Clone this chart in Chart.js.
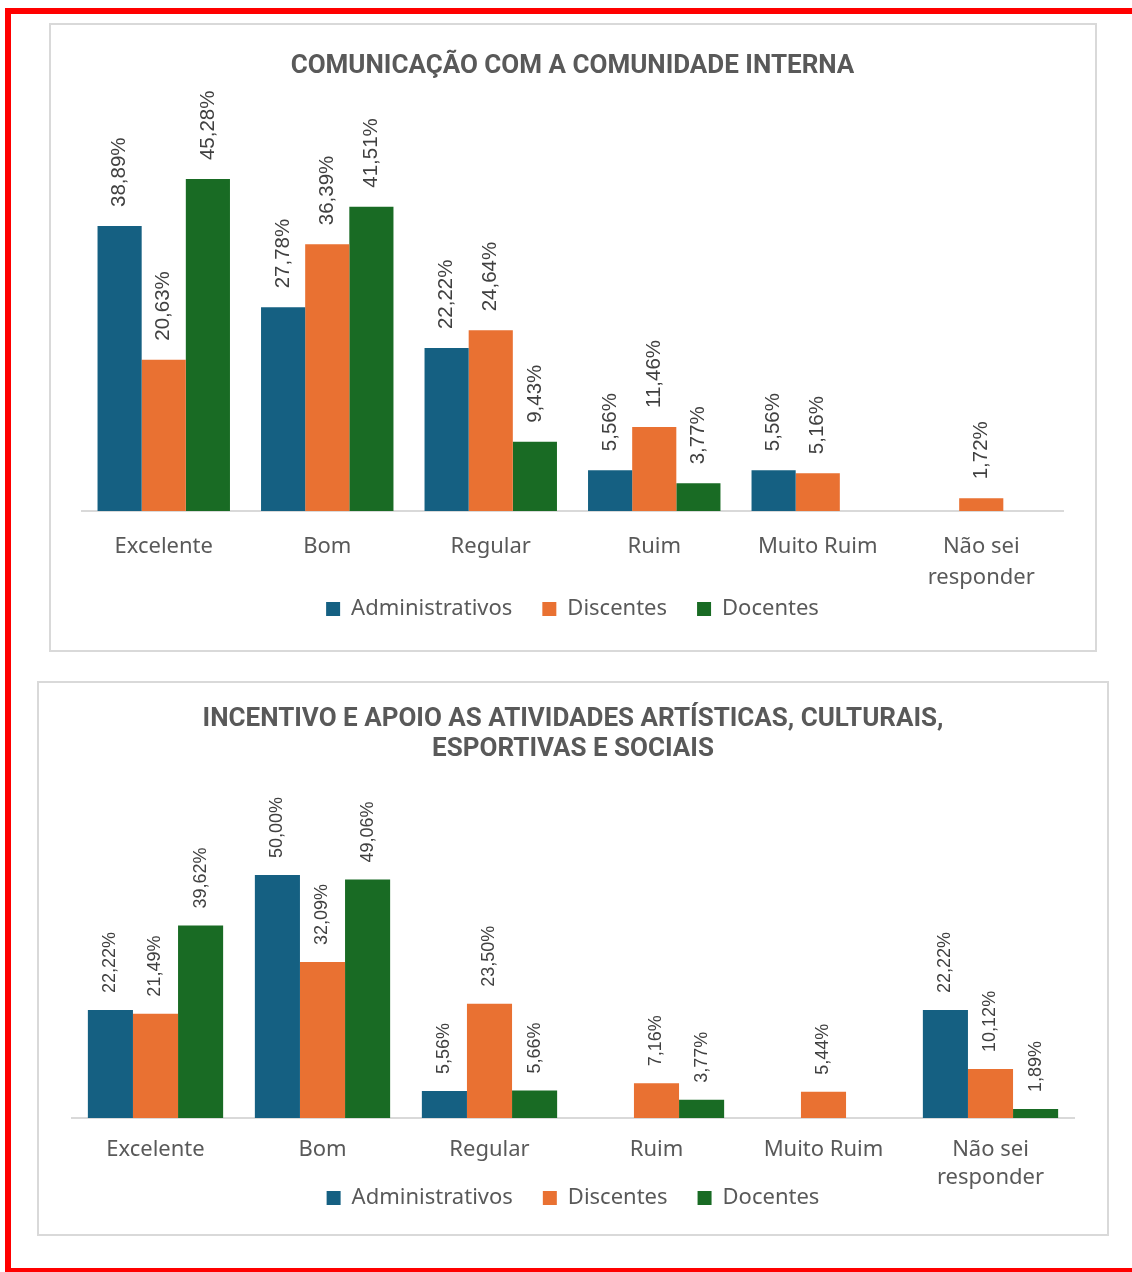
<!DOCTYPE html>
<html>
<head>
<meta charset="utf-8">
<script src="https://cdn.jsdelivr.net/npm/chart.js@4.4.1/dist/chart.umd.min.js"></script>
<style>
  body { margin: 0; background: #fff; }
  #page { position: relative; width: 1132px; height: 1272px; overflow: hidden; background: #fff; }
  #frame { position: absolute; left: 5px; top: 8px; width: 1140px; height: 1266px; border: 6px solid #ff0000; box-sizing: border-box; }
  .panel { position: absolute; border: 2px solid #d9d9d9; box-sizing: border-box; background: #fff; }
  #panel1 { left: 49px; top: 23px; width: 1048px; height: 629px; }
  #panel2 { left: 37px; top: 681px; width: 1072px; height: 555px; }
  .box { position: absolute; }
  #box1 { left: 51px; top: 25px; width: 1044px; height: 650px; }
  #box2 { left: 39px; top: 683px; width: 1068px; height: 589px; }
</style>
</head>
<body>
<div id="page">
  <div id="frame"></div>
  <div class="panel" id="panel1"></div>
  <div class="panel" id="panel2"></div>
  <div class="box" id="box1"><canvas id="chart_1"></canvas></div>
  <div class="box" id="box2"><canvas id="chart_2"></canvas></div>
</div>
<script>
// categories and series (percent)
const categories = ['Excelente', 'Bom', 'Regular', 'Ruim', 'Muito Ruim', ['Não sei', 'responder']];
const seriesNames = ['Administrativos', 'Discentes', 'Docentes'];
const seriesColors = ['#156082', '#E97132', '#196B24'];

// chart 1 - comunicação
const admin_1 = [38.89, 27.78, 22.22, 5.56, 5.56, null];
const disc_1 = [20.63, 36.39, 24.64, 11.46, 5.16, 1.72];
const doc_1 = [45.28, 41.51, 9.43, 3.77, null, null];

// chart 2 - incentivo e apoio
const admin_2 = [22.22, 50.00, 5.56, null, null, 22.22];
const disc_2 = [21.49, 32.09, 23.50, 7.16, 5.44, 10.12];
const doc_2 = [39.62, 49.06, 5.66, 3.77, null, 1.89];

const fmt = v => v.toFixed(2).replace('.', ',') + '%';

// draws the rotated value labels above each bar
const barLabels = {
  id: 'barLabels',
  afterDatasetsDraw(chart, args, opts) {
    const ctx = chart.ctx;
    ctx.save();
    ctx.fillStyle = '#404040';
    ctx.font = opts.size + 'px "Liberation Sans", Arial, sans-serif';
    ctx.textAlign = 'left';
    ctx.textBaseline = 'middle';
    chart.data.datasets.forEach((ds, i) => {
      const meta = chart.getDatasetMeta(i);
      meta.data.forEach((bar, j) => {
        const v = ds.data[j];
        if (v === null || v === undefined) return;
        ctx.save();
        ctx.translate(bar.x, bar.y - opts.offset);
        ctx.rotate(-Math.PI / 2);
        ctx.fillText(fmt(v), 0, 0);
        ctx.restore();
      });
    });
    ctx.restore();
  }
};

// pulls the legend up closer to the axis labels (excel-like spacing)
const legendShift = {
  id: 'legendShift',
  afterLayout(chart, args, opts) {
    const lg = chart.legend;
    if (!lg) return;
    lg.top -= opts.dy;
    lg.bottom -= opts.dy;
  }
};

const make_chart = (canvasId, series, cfg) => {
  return new Chart(document.getElementById(canvasId), {
    type: 'bar',
    data: {
      labels: categories,
      datasets: series.map((s, i) => ({
        label: seriesNames[i],
        data: s,
        backgroundColor: seriesColors[i],
        borderWidth: 0,
        categoryPercentage: 0.81,
        barPercentage: 1.0
      }))
    },
    plugins: [barLabels, legendShift],
    options: {
      responsive: true,
      maintainAspectRatio: false,
      animation: false,
      layout: { padding: { left: cfg.padLeft, right: cfg.padRight, top: 0, bottom: 0 } },
      scales: {
        y: { display: false, min: 0, max: 50 },
        x: {
          grid: { display: false, drawTicks: false },
          border: { display: true, color: '#d9d9d9', width: 2 },
          ticks: {
            color: '#595959',
            padding: cfg.tickPad,
            maxRotation: 0,
            autoSkip: false,
            font: { family: '"Noto Sans", "Open Sans", sans-serif', size: 22, lineHeight: cfg.tickLine }
          }
        }
      },
      plugins: {
        title: {
          display: true,
          text: cfg.title,
          color: '#595959',
          font: { family: 'Roboto, sans-serif', weight: 'bold', size: 26, lineHeight: cfg.titleLine },
          padding: { top: cfg.titleTop, bottom: cfg.titleBottom }
        },
        legend: {
          position: 'bottom',
          labels: {
            color: '#595959',
            boxWidth: 14,
            boxHeight: 14,
            padding: 30,
            font: { family: '"Noto Sans", "Open Sans", sans-serif', size: 22 }
          }
        },
        tooltip: { enabled: false },
        barLabels: { size: cfg.labelSize, offset: cfg.labelOffset },
        legendShift: { dy: cfg.legendDy }
      }
    }
  });
};

make_chart('chart_1', [admin_1, disc_1, doc_1], {
  title: 'COMUNICAÇÃO COM A COMUNIDADE INTERNA',
  titleLine: 1.2, titleTop: 25.4, titleBottom: 62.9,
  padLeft: 31, padRight: 32,
  tickPad: 20, tickLine: 1.41, legendDy: 45,
  labelSize: 20.5, labelOffset: 19
});

make_chart('chart_2', [admin_2, disc_2, doc_2], {
  title: ['INCENTIVO E APOIO AS ATIVIDADES ARTÍSTICAS, CULTURAIS,', 'ESPORTIVAS E SOCIAIS'],
  titleLine: 1.154, titleTop: 21, titleBottom: 111,
  padLeft: 33, padRight: 33,
  tickPad: 18, tickLine: 1.27, legendDy: 53,
  labelSize: 18, labelOffset: 17
});
</script>
</body>
</html>
